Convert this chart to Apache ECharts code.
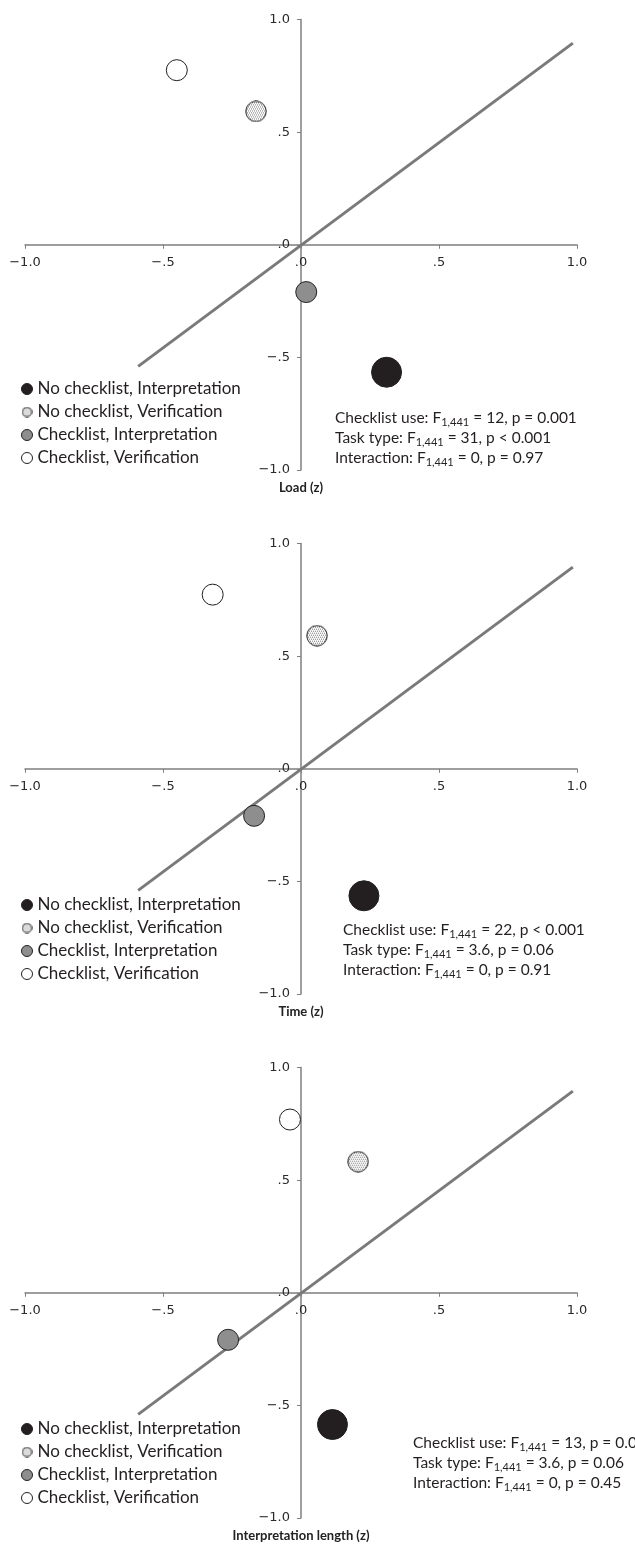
<!DOCTYPE html>
<html>
<head>
<meta charset="utf-8">
<script src="https://cdn.jsdelivr.net/npm/echarts@6/dist/echarts.min.js"></script>
<style>html,body{margin:0;padding:0;background:#fff}#c{width:635px;height:1545px}</style>
</head>
<body>
<div id="c"></div>
<script>
// ---------- data ----------
const seriesNames = ['No checklist, Interpretation', 'No checklist, Verification', 'Checklist, Interpretation', 'Checklist, Verification'];
const tickValues = [-1, -0.5, 0, 0.5, 1];
const tickLabels = ['\u22121.0', '\u2212.5', '.0', '.5', '1.0'];
const panelTitles = ['Load (z)', 'Time (z)', 'Interpretation length (z)'];
// points [x, y] per panel, in series order
const loadPoints = [[0.31, -0.566], [-0.163, 0.592], [0.019, -0.21], [-0.45, 0.775]];
const timePoints = [[0.228, -0.564], [0.058, 0.591], [-0.17, -0.209], [-0.32, 0.773]];
const lengthPoints = [[0.114, -0.585], [0.207, 0.582], [-0.264, -0.209], [-0.04, 0.769]];
const refLine = [[-0.59, -0.54], [0.985, 0.895]];
const statsLoad = [['Checklist use: F', '1,441', ' = 12, p = 0.001'], ['Task type: F', '1,441', ' = 31, p < 0.001'], ['Interaction: F', '1,441', ' = 0, p = 0.97']];
const statsTime = [['Checklist use: F', '1,441', ' = 22, p < 0.001'], ['Task type: F', '1,441', ' = 3.6, p = 0.06'], ['Interaction: F', '1,441', ' = 0, p = 0.91']];
const statsLength = [['Checklist use: F', '1,441', ' = 13, p = 0.001'], ['Task type: F', '1,441', ' = 3.6, p = 0.06'], ['Interaction: F', '1,441', ' = 0, p = 0.45']];

// ---------- styles ----------
const panels = [loadPoints, timePoints, lengthPoints];
const stats = [statsLoad, statsTime, statsLength];
const gridTops = [19.5, 543.5, 1067.5];
const legendTops = [374, 890, 1414];
const statsPos = [[335, 410], [343, 922], [413, 1435]];
const GH = 450.5, GW = 552;

// stippled circle marker image
function stippleIcon(size) {
  const c = document.createElement('canvas');
  c.width = size; c.height = size;
  const g = c.getContext('2d');
  const r = size / 2 - 0.5;
  g.save();
  g.beginPath(); g.arc(size / 2, size / 2, r, 0, Math.PI * 2); g.closePath();
  g.fillStyle = '#ffffff'; g.fill();
  g.clip();
  g.fillStyle = '#6e6e6e';
  for (let y = 0; y < size; y++) for (let x = 0; x < size; x++) {
    if (y % 2 === 0 && (x + (y % 4 === 0 ? 0 : 1)) % 2 === 0) g.fillRect(x, y, 1, 1);
  }
  g.restore();
  g.beginPath(); g.arc(size / 2, size / 2, r - 0.3, 0, Math.PI * 2);
  g.strokeStyle = '#231f20'; g.lineWidth = 1; g.stroke();
  return 'image://' + c.toDataURL();
}
const stippleBig = stippleIcon(22);
const stippleSmall = stippleIcon(11);

const fills = ['#231f20', '#ffffff', '#8e8e8e', '#ffffff'];
const sizes = [30, 22, 21, 21];
const symbols = ['circle', stippleBig, 'circle', 'circle'];
const legendIcons = ['circle', stippleSmall, 'circle', 'circle'];

const FONT = 'Lato';
const axisGrey = '#7f7f7f';
const fmt = v => tickLabels[tickValues.findIndex(t => Math.abs(t - v) < 1e-9)];

const grids = [], xAxes = [], yAxes = [], series = [], legends = [], graphics = [];
panels.forEach((pts, p) => {
  grids.push({left: 25, width: GW, top: gridTops[p], height: GH, containLabel: false, outerBoundsMode: 'none'});
  xAxes.push({
    type: 'value', gridIndex: p, min: -1, max: 1, interval: 0.5,
    position: 'bottom', offset: -GH / 2,
    axisLine: {onZero: false, lineStyle: {color: axisGrey, width: 1.5}},
    axisTick: {show: true, inside: false, length: 4, lineStyle: {color: axisGrey}},
    splitLine: {show: false},
    axisLabel: {margin: 11, color: '#2a2a2a', fontFamily: 'DejaVu Sans', fontSize: 13, formatter: fmt}
  });
  yAxes.push({
    type: 'value', gridIndex: p, min: -1, max: 1, interval: 0.5,
    position: 'left', offset: -GW / 2,
    name: panelTitles[p], nameLocation: 'start', nameGap: 11, nameMoveOverlap: false,
    nameTextStyle: {fontFamily: FONT, fontWeight: 'bold', fontSize: 13, color: '#222', align: 'center', verticalAlign: 'top'},
    axisLine: {onZero: false, lineStyle: {color: axisGrey, width: 1.5}},
    axisTick: {show: true, inside: false, length: 4, lineStyle: {color: axisGrey}},
    splitLine: {show: false},
    axisLabel: {margin: 11, color: '#2a2a2a', fontFamily: 'DejaVu Sans', fontSize: 13, formatter: fmt}
  });
  series.push({
    type: 'line', xAxisIndex: p, yAxisIndex: p, data: refLine, symbol: 'none',
    lineStyle: {color: '#7a7a7a', width: 3}, silent: true, z: 1
  });
  pts.forEach((pt, i) => {
    series.push({
      type: 'scatter', name: seriesNames[i], xAxisIndex: p, yAxisIndex: p,
      data: [pt], symbol: symbols[i], symbolSize: sizes[i], z: 3,
      itemStyle: {color: fills[i], borderColor: '#231f20', borderWidth: 1, opacity: 1}
    });
  });
  legends.push({
    orient: 'vertical', left: 16, top: legendTops[p], itemGap: 3,
    itemWidth: 11, itemHeight: 11,
    data: seriesNames.map((n, i) => ({name: n, icon: legendIcons[i], itemStyle: {borderColor: '#231f20', borderWidth: 1}})),
    textStyle: {fontFamily: FONT, fontSize: 17, color: '#231f20', lineHeight: 20},
    selectedMode: false
  });
  const lines = stats[p].map(r => `{n|${r[0]}}{s|${r[1]}}{n|${r[2]}}`).join('\n');
  graphics.push({
    type: 'text', left: statsPos[p][0], top: statsPos[p][1], z: 10,
    style: {
      text: lines, fill: '#231f20',
      rich: {
        n: {fontFamily: FONT, fontSize: 15.5, lineHeight: 20, fill: '#231f20'},
        s: {fontFamily: FONT, fontSize: 11, lineHeight: 8, verticalAlign: 'bottom', fill: '#231f20'}
      }
    }
  });
});

const chart = echarts.init(document.getElementById('c'), null, {renderer: 'canvas'});
chart.setOption({
  animation: false,
  backgroundColor: '#ffffff',
  grid: grids, xAxis: xAxes, yAxis: yAxes, series: series, legend: legends, graphic: graphics
});
</script>
</body>
</html>
